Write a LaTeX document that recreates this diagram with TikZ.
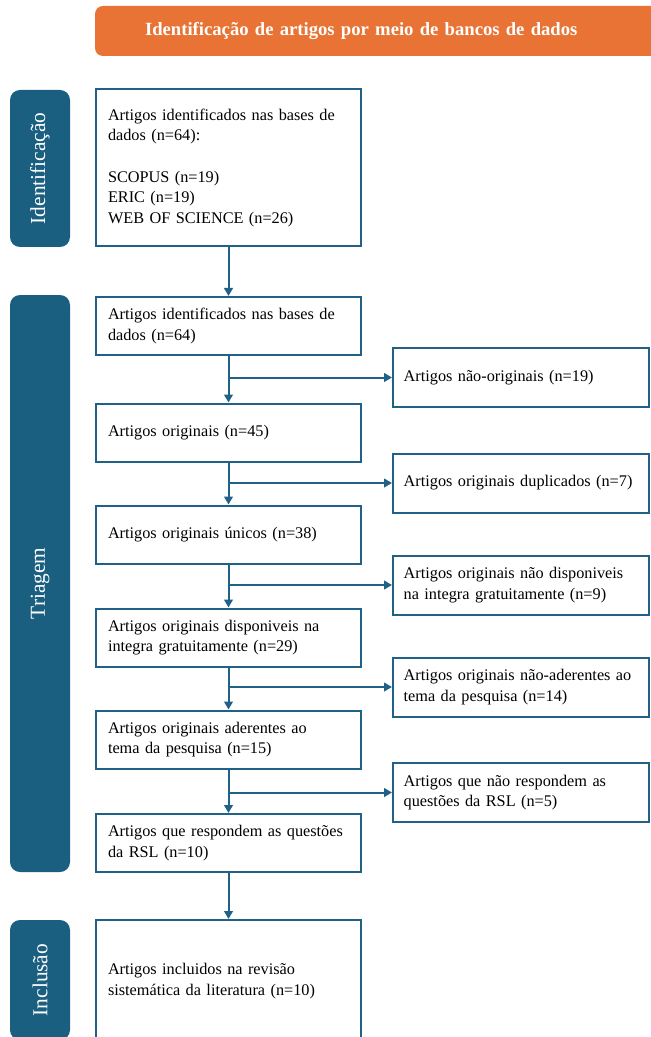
\documentclass[tikz,border=0pt]{standalone}
\usepackage{fontspec}
\setmainfont{Liberation Serif}
\usetikzlibrary{arrows.meta}
\definecolor{bluebox}{RGB}{31,97,135}
\definecolor{bluetab}{RGB}{26,94,128}
\definecolor{orangehead}{RGB}{232,115,52}

\begin{document}
\begin{tikzpicture}[x=0.75pt,y=0.75pt,yscale=-1,xscale=1,
  mainbox/.style={draw=bluebox,line width=1.5pt,fill=white,minimum width=198.75pt,minimum height=43.5pt,inner xsep=9pt,text width=180.75pt,align=left,font=\fontsize{12.2}{15.5}\selectfont},
  sidebox/.style={mainbox,minimum width=192pt,minimum height=44.25pt,inner xsep=8pt,text width=176pt},
  phasetab/.style={fill=bluetab,rounded corners=7.5pt,minimum height=45pt,rotate=90,text=white,font=\fontsize{16}{18}\selectfont},
  flow/.style={draw=bluebox,line width=1.5pt,-{Triangle[length=6pt,width=6.5pt]}}]
%uncomment if require: \path (0,1037); %set diagram left start at 0, and has height of 1037
\useasboundingbox (0,0) rectangle (650,1037);

%Rounded Rect: title bar
\node (head) [fill=orangehead,rounded corners=6pt,minimum width=427.5pt,minimum height=37.5pt,inner xsep=37.5pt,text width=352.5pt,align=left,text=white,font=\bfseries\fontsize{14}{16}\selectfont] at (380,31) {Identificação de artigos por meio de bancos de dados};

%Rounded Rect: phases
\node (tabid) [phasetab,minimum width=117.75pt] at (40,168.5) {Identificação};
\node (tabtri) [phasetab,minimum width=432.75pt] at (40,583.5) {Triagem};
\node (tabinc) [phasetab,minimum width=90pt] at (40,980) {Inclusão};

% Text Node
\node (bases) [mainbox,minimum height=117.75pt] at (228.5,168) {Artigos identificados nas bases de\\ dados (n=64):\\[15.5pt] SCOPUS (n=19)\\ ERIC (n=19)\\ WEB OF SCIENCE (n=26)};
\node (ident) [mainbox] at (228.5,326) {Artigos identificados nas bases de\\ dados (n=64)};
\node (orig) [mainbox] at (228.5,432.5) {Artigos originais (n=45)};
\node (unic) [mainbox] at (228.5,534.5) {Artigos originais únicos (n=38)};
\node (disp) [mainbox] at (228.5,637.5) {Artigos originais disponiveis na\\ integra gratuitamente (n=29)};
\node (ader) [mainbox] at (228.5,739.5) {Artigos originais aderentes ao\\ tema da pesquisa (n=15)};
\node (resp) [mainbox] at (228.5,843) {Artigos que respondem as questões\\ da RSL (n=10)};
\node (incl) [mainbox,minimum height=91.5pt] at (228.5,981) {Artigos incluidos na revisão\\ sistemática da literatura (n=10)};

% Text Node: excluded
\node (naoorig) [sidebox] at (521,377.5) {Artigos não-originais (n=19)};
\node (dupl) [sidebox] at (521,483) {Artigos originais duplicados (n=7)};
\node (naodisp) [sidebox] at (521,585) {Artigos originais não disponiveis\\ na integra gratuitamente (n=9)};
\node (naoader) [sidebox] at (521,687) {Artigos originais não-aderentes ao\\ tema da pesquisa (n=14)};
\node (naoresp) [sidebox] at (521,792.5) {Artigos que não respondem as\\ questões da RSL (n=5)};

%Straight Lines
\draw [flow] (bases) -- (ident);
\draw [flow] (ident) -- (orig);
\draw [flow] (orig) -- (unic);
\draw [flow] (unic) -- (disp);
\draw [flow] (disp) -- (ader);
\draw [flow] (ader) -- (resp);
\draw [flow] (resp) -- (incl);

\draw [flow] (ident.south |- naoorig.west) -- (naoorig.west);
\draw [flow] (orig.south |- dupl.west) -- (dupl.west);
\draw [flow] (unic.south |- naodisp.west) -- (naodisp.west);
\draw [flow] (disp.south |- naoader.west) -- (naoader.west);
\draw [flow] (ader.south |- naoresp.west) -- (naoresp.west);
\end{tikzpicture}
\end{document}
